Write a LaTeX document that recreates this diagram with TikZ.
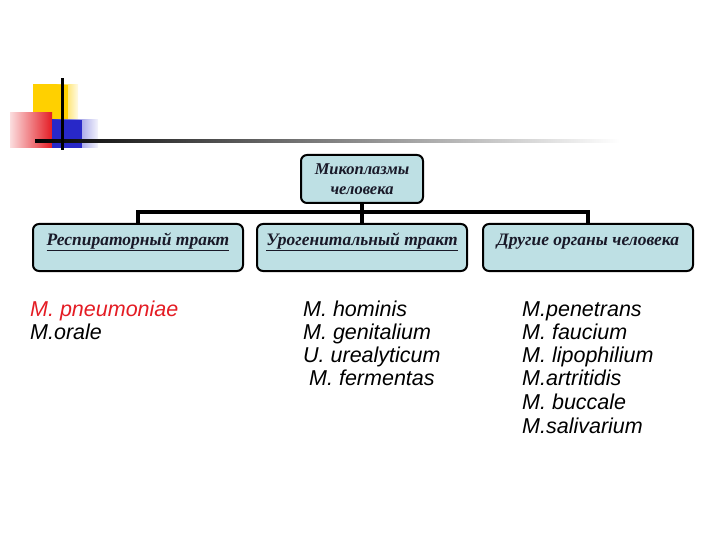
\documentclass[tikz,border=0pt]{standalone}
\usepackage{fontspec}
\setmainfont{Liberation Serif}
\setsansfont{Liberation Sans}
\usetikzlibrary{positioning}
\definecolor{boxfill}{RGB}{190,224,228}
\definecolor{sred}{RGB}{228,28,36}
\definecolor{syellow}{RGB}{255,208,0}
\definecolor{sblue}{RGB}{40,40,200}
\definecolor{boxtext}{RGB}{25,25,40}
\tikzset{
  box/.style={draw=black, line width=2pt, rounded corners=6pt, fill=boxfill,
    minimum width=210pt, inner xsep=2pt, inner ysep=0pt, text height=21pt, text depth=26pt,
    align=center, font=\fontsize{17.5}{18}\selectfont\bfseries\itshape, text=boxtext},
  topbox/.style={draw=black, line width=2pt, rounded corners=6pt, fill=boxfill,
    minimum width=122pt, minimum height=48pt, inner sep=0pt, align=center,
    font=\fontsize{16.5}{20}\selectfont\bfseries\itshape, text=boxtext},
  conn/.style={line width=4pt, line cap=rect},
  item/.style={anchor=base west, inner sep=0pt, font=\sffamily\itshape\fontsize{21.5}{22}\selectfont}
}
\begin{document}
\begin{tikzpicture}[x=1pt,y=-1pt]
\useasboundingbox (0,0) rectangle (720,540);
% decoration
\shade[left color=syellow, right color=syellow!10, middle color=syellow] (33,85) rectangle (78,122);
\fill[syellow] (33,85) rectangle (68,122);
\shade[left color=sred!15, right color=sred] (10,113) rectangle (52,148);
\shade[left color=sblue, right color=sblue!5] (52,120) rectangle (98,148);
\fill[sblue] (52,120) rectangle (82,148);
\shade[left color=black, right color=white] (35,140) rectangle (620,142.5);
\fill[black] (61,78) rectangle (63.5,150);
% nodes
\node[topbox] (top) at (362,179) {Микоплазмы\\человека};
\node[box] (b1) at (138,247.5) {\underline{Респираторный тракт}};
\node[box] (b2) at (362,247.5) {\underline{Урогенитальный тракт}};
\node[box] (b3) at (588,247.5) {Другие органы человека};
% connectors
\draw[conn] (b1.north) -- ++(0,-11) coordinate (bl) -| (b3.north);
\draw[conn] (top.south) -- (b2.north);
% lists
\node[item, text=sred] (l1) at (30,316) {M. pneumoniae};
\node[item] (l2) at (30,339) {M.orale};
\node[item] (m1) at (303,316) {M. hominis};
\node[item] (m2) at (303,339) {M. genitalium};
\node[item] (m3) at (303,362) {U. urealyticum};
\node[item] (m4) at (309,385) {M. fermentas};
\node[item] (r1) at (522,316) {M.penetrans};
\node[item] (r2) at (522,339) {M. faucium};
\node[item] (r3) at (522,362) {M. lipophilium};
\node[item] (r4) at (522,385) {M.artritidis};
\node[item] (r5) at (522,409) {M. buccale};
\node[item] (r6) at (522,433) {M.salivarium};
\end{tikzpicture}
\end{document}
